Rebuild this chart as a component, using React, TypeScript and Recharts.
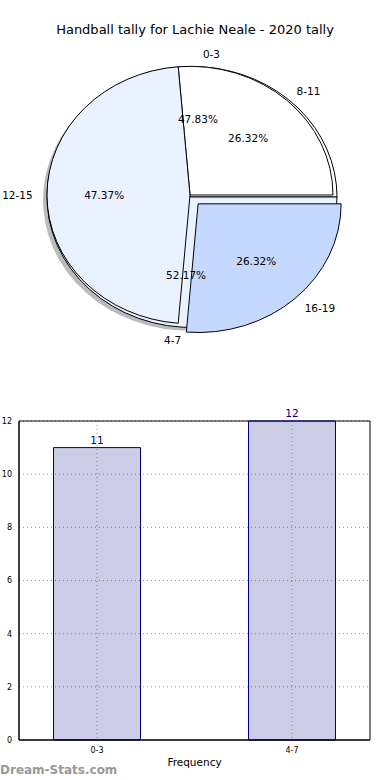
import React from 'react';
import {
  PieChart, Pie, BarChart, Bar, XAxis, YAxis, CartesianGrid, LabelList, ReferenceArea,
} from 'recharts';

const FONT = '"DejaVu Sans", sans-serif';

// pie data: two overlapping pies as in the original
const innerNames = ['0-3', '4-7'];
const innerValues = [11, 12];
const outerNames = ['8-11', '12-15', '16-19'];
const outerValues = [5, 9, 5];
const outerColors = ['#ffffff', '#eaf1ff', '#c5d9ff'];
const innerColors = ['#ffffff', '#eaf1ff'];
const explodedOuter = ['16-19'];

// bar data
const barCategories = ['0-3', '4-7'];
const barValues = [11, 12];
const yTicks = [0, 2, 4, 6, 8, 10, 12];

const innerData = innerNames.map((name, i) => ({ name, value: innerValues[i] }));
const outerData = outerNames.map((name, i) => ({ name, value: outerValues[i] }));
const barData = barCategories.map((name, i) => ({ x: i, name, value: barValues[i] }));

const Y_SQUASH = 0.9;
const EXPLODE = 12;
const RAD = Math.PI / 180;

function sectorPath(cx: number, cy: number, r: number, start: number, end: number, off: number) {
  const mid = ((start + end) / 2) * RAD;
  const x0 = cx + off * Math.cos(mid);
  const y0 = cy - off * Math.sin(mid);
  const rx = r;
  const ry = r * Y_SQUASH;
  const x1 = x0 + rx * Math.cos(start * RAD);
  const y1 = y0 - ry * Math.sin(start * RAD);
  const x2 = x0 + rx * Math.cos(end * RAD);
  const y2 = y0 - ry * Math.sin(end * RAD);
  const large = Math.abs(end - start) > 180 ? 1 : 0;
  return `M${x0},${y0} L${x1},${y1} A${rx},${ry} 0 ${large} 0 ${x2},${y2} Z`;
}

const makeShape = (exploded: string[], colors: string[] | null, shadow = false) => (props: any) => {
  const { cx, cy, outerRadius, startAngle, endAngle, name, index } = props;
  const off = exploded.includes(name) ? EXPLODE : 0;
  const d = sectorPath(cx, cy, outerRadius, startAngle, endAngle, off);
  if (shadow) return <path d={d} fill="#777" fillOpacity={0.5} stroke="none" />;
  if (!colors) return <g />;
  return <path d={d} fill={colors[index]} stroke="#000" strokeWidth={1} />;
};

const makeLabel = (exploded: string[]) => (props: any) => {
  const { cx, cy, outerRadius, midAngle, percent, name } = props;
  const off = exploded.includes(name) ? EXPLODE : 0;
  const c = Math.cos(midAngle * RAD);
  const s = Math.sin(midAngle * RAD);
  const x0 = cx + off * c;
  const y0 = cy - off * s;
  const lx = x0 + 1.1 * outerRadius * c;
  const ly = y0 - 1.1 * outerRadius * Y_SQUASH * s;
  const px = x0 + 0.6 * outerRadius * c;
  const py = y0 - 0.6 * outerRadius * Y_SQUASH * s;
  return (
    <g>
      <text x={lx} y={ly} textAnchor={c >= 0 ? 'start' : 'end'} dominantBaseline="central"
        fontFamily={FONT} fontSize={10.5} fill="#000">{name}</text>
      <text x={px} y={py} textAnchor="middle" dominantBaseline="central"
        fontFamily={FONT} fontSize={10.5} fill="#000">{(percent * 100).toFixed(2)}%</text>
    </g>
  );
};

export default function App() {
  return (
    <div style={{ position: 'absolute', left: 0, top: 0, width: 390, height: 780, background: '#fff', fontFamily: FONT }}>
      <div style={{ position: 'absolute', top: 22, width: 390, textAlign: 'center', fontSize: 13, color: '#000' }}>
        Handball tally for Lachie Neale - 2020 tally
      </div>

      <div style={{ position: 'absolute', left: 0, top: 0 }}>
        <PieChart width={390} height={380} margin={{ top: 0, right: 0, bottom: 0, left: 0 }}>
          {/* shadow */}
          <Pie data={innerData} dataKey="value" nameKey="name" cx={188} cy={200} outerRadius={145}
            isAnimationActive={false} shape={makeShape([], null, true)} labelLine={false} />
          <Pie data={innerData} dataKey="value" nameKey="name" cx={192} cy={197} outerRadius={145}
            isAnimationActive={false} shape={makeShape([], innerColors)} labelLine={false} />
          <Pie data={outerData} dataKey="value" nameKey="name" cx={190} cy={195} outerRadius={143}
            isAnimationActive={false} shape={makeShape(explodedOuter, outerColors)}
            label={makeLabel(explodedOuter)} labelLine={false} />
          {/* labels of the first pie, drawn on top */}
          <Pie data={innerData} dataKey="value" nameKey="name" cx={192} cy={197} outerRadius={145}
            isAnimationActive={false} shape={makeShape([], null)}
            label={makeLabel([])} labelLine={false} />
        </PieChart>
      </div>

      <div style={{ position: 'absolute', left: 0, top: 400 }}>
        <BarChart width={390} height={380} data={barData} margin={{ top: 21, right: 20, bottom: 0, left: 0 }}>
          <CartesianGrid stroke="#999" strokeDasharray="1 3" horizontalValues={yTicks} verticalValues={[0, 1]} />
          <XAxis dataKey="x" type="number" domain={[-0.4, 1.4]} ticks={[0, 1]} height={40}
            tickFormatter={(v: number) => barCategories[v]} axisLine={{ stroke: '#000' }}
            tickLine={false} tickMargin={1} tick={{ fontSize: 8, fill: '#000', fontFamily: FONT }}
            label={{ value: 'Frequency', position: 'insideBottom', offset: 14, fontSize: 10.5, fill: '#000', fontFamily: FONT }} />
          <YAxis type="number" domain={[0, 12]} ticks={yTicks} width={19} interval={0}
            axisLine={{ stroke: '#000' }} tickLine={false} tickMargin={1}
            tick={{ fontSize: 8, fill: '#000', fontFamily: FONT }}
            label={{ value: 'Stat Interval', angle: -90, position: 'insideLeft', offset: -15, fontSize: 10.5, fill: '#000', fontFamily: FONT }} />
          <Bar dataKey="value" barSize={87} fill="#000080" fillOpacity={0.2} stroke="#000080" strokeWidth={1}
            isAnimationActive={false}>
            <LabelList dataKey="value" position="top" offset={4} fill="#000080" fontSize={10.5} fontFamily={FONT} />
          </Bar>
          <ReferenceArea x1={-0.4} x2={1.4} y1={0} y2={12} fill="none" stroke="#000" strokeWidth={1} />
        </BarChart>
      </div>

      <div style={{ position: 'absolute', left: 0, top: 763, fontSize: 12, fontWeight: 'bold', color: '#999' }}>
        Dream-Stats.com
      </div>
    </div>
  );
}
